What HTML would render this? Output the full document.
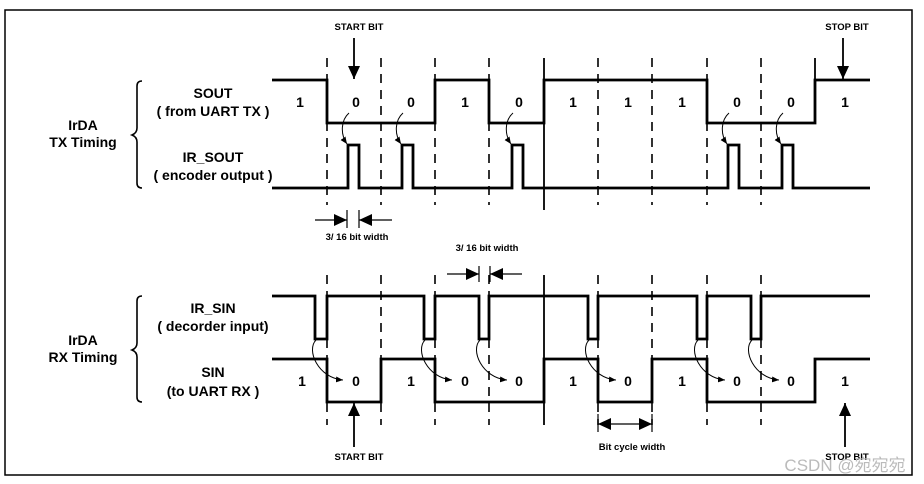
<!DOCTYPE html>
<html><head><meta charset="utf-8"><style>
html,body{margin:0;padding:0;background:#fff;}
svg{display:block;}
text{font-family:"Liberation Sans",Arial,sans-serif;font-weight:bold;fill:#000;}
</style></head><body>
<svg width="924" height="484" viewBox="0 0 924 484" xmlns="http://www.w3.org/2000/svg">
<defs>
<marker id="ah" markerWidth="8" markerHeight="8" refX="7" refY="4" orient="auto" markerUnits="userSpaceOnUse"><path d="M0,1 L7,4 L0,7 z" fill="#000"/></marker>
<marker id="big" markerWidth="14" markerHeight="14" refX="13" refY="7" orient="auto" markerUnits="userSpaceOnUse"><path d="M0,1 L13,7 L0,13 z" fill="#000"/></marker>
</defs>
<rect x="5" y="10" width="907" height="465" fill="none" stroke="#000" stroke-width="1.5"/>

<!-- vertical grid -->
<g stroke="#000" stroke-width="1.6" stroke-dasharray="9,7">
<line x1="327" y1="58" x2="327" y2="205"/><line x1="381" y1="58" x2="381" y2="205"/><line x1="435" y1="58" x2="435" y2="205"/><line x1="489" y1="58" x2="489" y2="205"/><line x1="598" y1="58" x2="598" y2="205"/><line x1="652" y1="58" x2="652" y2="205"/><line x1="707" y1="58" x2="707" y2="205"/><line x1="761" y1="58" x2="761" y2="205"/>
<line x1="327" y1="275" x2="327" y2="425"/><line x1="381" y1="275" x2="381" y2="425"/><line x1="435" y1="275" x2="435" y2="425"/><line x1="489" y1="275" x2="489" y2="425"/><line x1="598" y1="275" x2="598" y2="425"/><line x1="652" y1="275" x2="652" y2="425"/><line x1="707" y1="275" x2="707" y2="425"/><line x1="761" y1="275" x2="761" y2="425"/>
</g>
<g stroke="#000" stroke-width="1.8">
<line x1="544" y1="58" x2="544" y2="210"/><line x1="815" y1="58" x2="815" y2="80"/>
<line x1="544" y1="275" x2="544" y2="425"/>
</g>

<!-- waveforms -->
<g fill="none" stroke="#000" stroke-width="2.8">
<polyline points="272,80 327,80 327,123 435,123 435,80 489,80 489,123 544,123 544,80 707,80 707,123 815,123 815,80 870,80"/>
<polyline points="272,188 348,188 348,145 359,145 359,188 402,188 402,145 413,145 413,188 512,188 512,145 523,145 523,188 728,188 728,145 739,145 739,188 782,188 782,145 793,145 793,188 870,188"/>
<polyline points="272,296 315,296 315,339 327,339 327,296 424,296 424,339 435,339 435,296 479,296 479,339 489,339 489,296 588,296 588,339 598,339 598,296 697,296 697,339 707,339 707,296 751,296 751,339 761,339 761,296 870,296"/>
<polyline points="272,359 327,359 327,402 381,402 381,359 435,359 435,402 544,402 544,359 598,359 598,402 652,402 652,359 707,359 707,402 815,402 815,359 870,359"/>
</g>

<!-- digits -->
<g font-size="14" text-anchor="middle">
<text x="300" y="107">1</text><text x="356" y="107">0</text><text x="411" y="107">0</text><text x="465" y="107">1</text><text x="519" y="107">0</text><text x="573" y="107">1</text><text x="628" y="107">1</text><text x="682" y="107">1</text><text x="737" y="107">0</text><text x="791" y="107">0</text><text x="845" y="107">1</text>
<text x="302" y="386">1</text><text x="356" y="386">0</text><text x="411" y="386">1</text><text x="465" y="386">0</text><text x="519" y="386">0</text><text x="573" y="386">1</text><text x="628" y="386">0</text><text x="682" y="386">1</text><text x="737" y="386">0</text><text x="791" y="386">0</text><text x="845" y="386">1</text>
</g>

<!-- curved arrows TX -->
<g fill="none" stroke="#000" stroke-width="1" marker-end="url(#ah)">
<path d="M349,113 C341,120 340,134 347,144"/>
<path d="M403,113 C395,120 394,134 401,144"/>
<path d="M513,113 C505,120 504,134 511,144"/>
<path d="M729,113 C721,120 720,134 727,144"/>
<path d="M783,113 C775,120 774,134 781,144"/>
<!-- RX -->
<path d="M316,340 C306,350 318,378 343,380"/>
<path d="M425,340 C415,350 427,378 452,380"/>
<path d="M480,340 C470,350 482,378 507,380"/>
<path d="M589,340 C579,350 591,378 616,380"/>
<path d="M698,340 C688,350 700,378 725,380"/>
<path d="M752,340 C742,350 754,378 779,380"/>
</g>

<!-- start/stop arrows -->
<g stroke="#000" stroke-width="1.8" marker-end="url(#big)">
<line x1="354" y1="38" x2="354" y2="79"/>
<line x1="843" y1="38" x2="843" y2="79"/>
<line x1="354" y1="447" x2="354" y2="403"/>
<line x1="845" y1="447" x2="845" y2="403"/>
</g>
<g font-size="9.5" text-anchor="middle">
<text x="359" y="30">START BIT</text>
<text x="847" y="30">STOP BIT</text>
<text x="359" y="460">START BIT</text>
<text x="847" y="460">STOP BIT</text>
</g>

<!-- 3/16 bit width -->
<g stroke="#000" stroke-width="1.2">
<line x1="347" y1="210" x2="347" y2="228"/><line x1="359" y1="210" x2="359" y2="228"/>
<line x1="479" y1="266" x2="479" y2="282"/><line x1="490" y1="266" x2="490" y2="282"/>
<line x1="598" y1="414" x2="598" y2="432"/><line x1="652" y1="414" x2="652" y2="432"/>
</g>
<g stroke="#000" stroke-width="1.2" marker-end="url(#big)">
<line x1="315" y1="220" x2="347" y2="220"/><line x1="392" y1="220" x2="359" y2="220"/>
<line x1="447" y1="274" x2="479" y2="274"/><line x1="522" y1="274" x2="490" y2="274"/>
<line x1="625" y1="424" x2="598" y2="424"/><line x1="625" y1="424" x2="652" y2="424"/>
</g>
<g font-size="9.5" text-anchor="middle">
<text x="357" y="240">3/ 16 bit width</text>
<text x="487" y="251">3/ 16 bit width</text>
<text x="632" y="450">Bit cycle width</text>
</g>

<!-- left labels -->
<g font-size="14" text-anchor="middle">
<text x="83" y="130">IrDA</text><text x="83" y="147">TX Timing</text>
<text x="213" y="98">SOUT</text><text x="213" y="116">( from UART TX )</text>
<text x="213" y="162">IR_SOUT</text><text x="213" y="180">( encoder output )</text>
<text x="83" y="345">IrDA</text><text x="83" y="362">RX Timing</text>
<text x="213" y="313">IR_SIN</text><text x="213" y="331">(  decorder input)</text>
<text x="213" y="377">SIN</text><text x="213" y="396">(to UART RX )</text>
</g>
<g fill="none" stroke="#000" stroke-width="1.6">
<path d="M142,81 Q137,81 137,86 L137,128 Q137,133 132,135 Q137,137 137,142 L137,183 Q137,188 142,188"/>
<path d="M142,296 Q137,296 137,301 L137,343 Q137,348 132,350 Q137,352 137,357 L137,397 Q137,402 142,402"/>
</g>

<text x="845" y="471" font-size="17" text-anchor="middle" style="font-weight:normal;fill:#bbb;font-family:'Liberation Sans','Noto Sans CJK SC',sans-serif">CSDN @宛宛宛</text>
</svg>
</body></html>
